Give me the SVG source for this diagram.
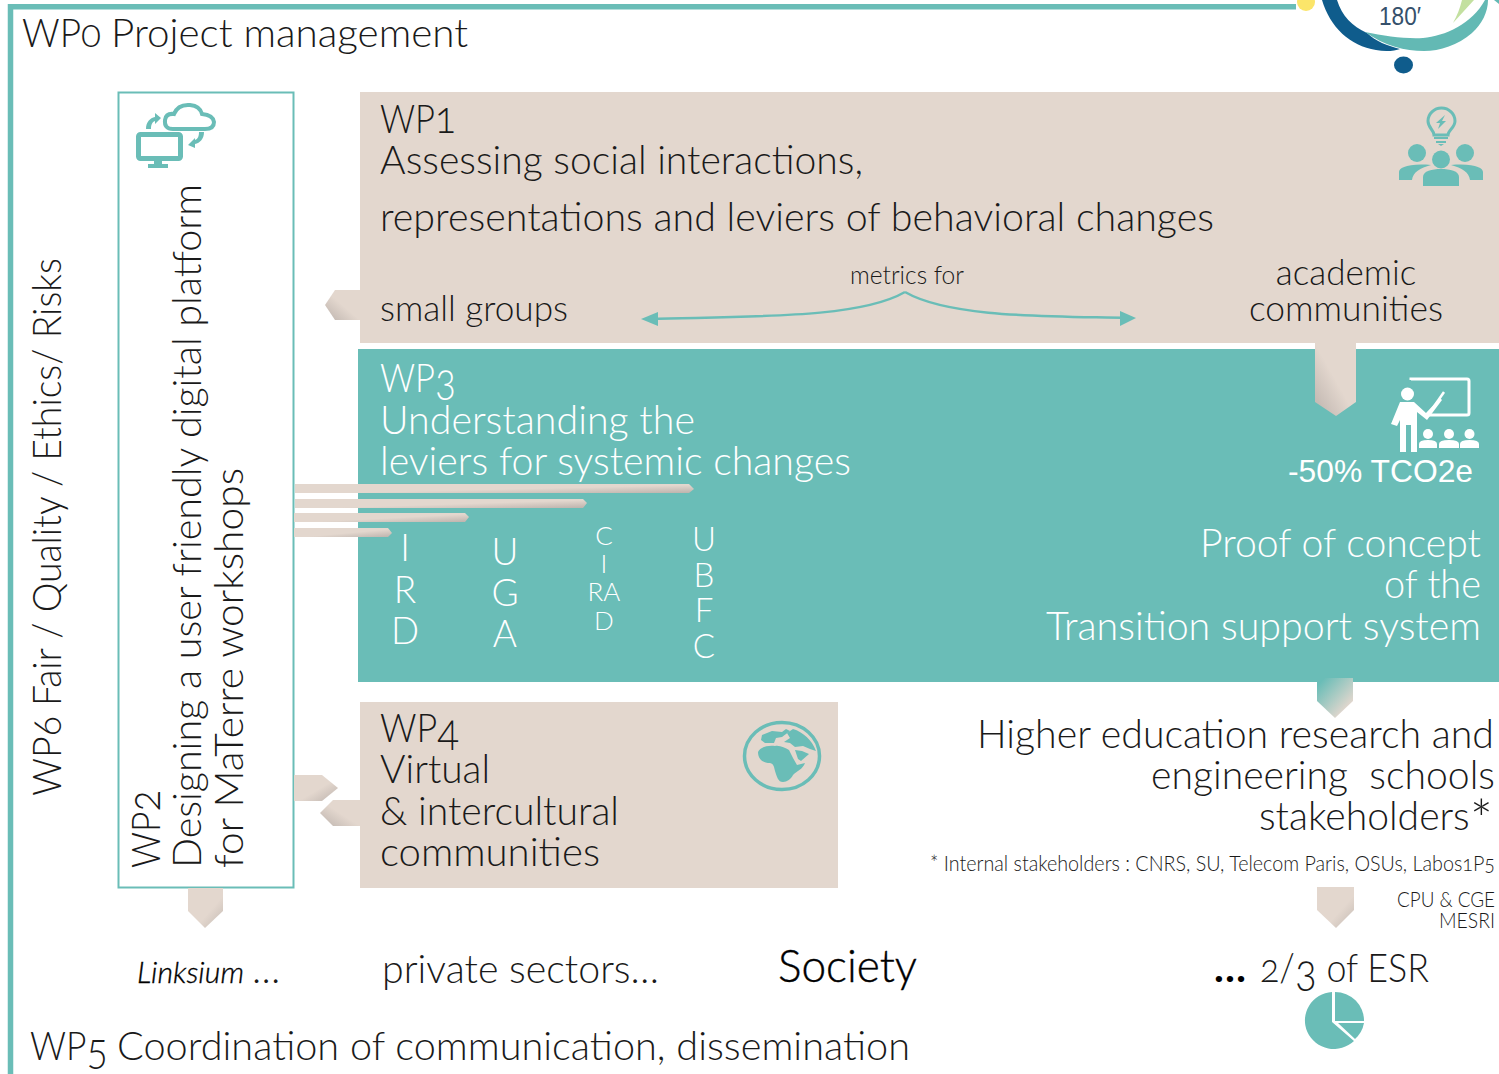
<svg xmlns="http://www.w3.org/2000/svg" width="1499" height="1074" viewBox="0 0 1499 1074">
<defs>
<linearGradient id="g1" x1="0" y1="0" x2="1" y2="1"><stop offset="0" stop-color="#e3d7ce"/><stop offset=".55" stop-color="#e3d7ce"/><stop offset="1" stop-color="#bdb3ad"/></linearGradient>
<linearGradient id="g2" x1="0" y1="1" x2="1" y2="0"><stop offset="0" stop-color="#bdb3ad"/><stop offset=".5" stop-color="#e3d7ce"/><stop offset="1" stop-color="#e3d7ce"/></linearGradient>
<linearGradient id="g3" x1="0" y1="0" x2="1" y2="1"><stop offset="0" stop-color="#e3d7ce"/><stop offset=".6" stop-color="#e3d7ce"/><stop offset="1" stop-color="#c4bab3"/></linearGradient>
<linearGradient id="g4" x1="0" y1="0" x2="1" y2="1"><stop offset=".1" stop-color="#6abdb7"/><stop offset=".8" stop-color="#e3d7ce"/></linearGradient>
</defs>
<style>
text{font-family:"Lato","Open Sans","Liberation Sans",sans-serif;font-weight:300;fill:#1a1a1a;font-size:40px;font-variant-numeric:oldstyle-nums}
.w{fill:#fff}
.m{text-anchor:middle}
.d{font-size:45px}
</style>
<rect width="1499" height="1074" fill="#fff"/>
<g id="frame"><path d="M1296 6.800H10.500V1074" fill="none" stroke="#6abdb7" stroke-width="5.500"/></g>
<g id="wp0"><text x="22" y="47" textLength="79" lengthAdjust="spacingAndGlyphs">WP0</text><text x="111" y="47" textLength="357" lengthAdjust="spacingAndGlyphs">Project management</text></g>
<g id="logo">
<circle cx="1306" cy="2" r="9" fill="#fbe56a"/>
<path d="M1322 0H1337C1342 16 1352 26 1367 33C1375 41 1388 46 1400 49C1395 51 1385 52 1376 50C1350 46 1330 27 1322 0Z" fill="#0f5c8c"/>
<path d="M1365 32C1385 36 1405 39 1423 38C1445 36 1472 24 1485 0H1488C1488 12 1482 24 1472 33C1458 45 1440 51 1424 51C1405 51 1385 46 1365 32Z" fill="#63b9b4"/>
<path d="M1453 23L1474 0H1462C1460 8 1457 16 1453 23Z" fill="#c3e0a0"/>
<path d="M1494 0H1499V4Z" fill="#63b9b4"/>
<ellipse cx="1403.500" cy="65" rx="9.500" ry="8.500" fill="#0f5c8c"/>
<text x="1379" y="25" textLength="42" lengthAdjust="spacingAndGlyphs" style="font-family:'Liberation Sans',sans-serif;font-weight:400;font-size:25px;fill:#35506b;font-variant-numeric:normal">180′</text>
</g>
<g id="wp1">
<rect x="360" y="92" width="1139" height="251" fill="#e3d7ce"/>
<text x="380" y="133" textLength="76" lengthAdjust="spacingAndGlyphs">WP<tspan class="d">1</tspan></text>
<text x="380" y="174" textLength="483" lengthAdjust="spacingAndGlyphs">Assessing social interactions,</text>
<text x="380" y="231" textLength="834" lengthAdjust="spacingAndGlyphs">representations and leviers of behavioral changes</text>
<text x="380" y="321" style="font-size:35px" textLength="188" lengthAdjust="spacingAndGlyphs">small groups</text>
<text x="850" y="284" style="font-size:25px" textLength="114" lengthAdjust="spacingAndGlyphs">metrics for</text>
<text x="1346" y="285" class="m" style="font-size:35px">academic</text>
<text x="1346" y="321" class="m" style="font-size:35px" textLength="194" lengthAdjust="spacingAndGlyphs">communities</text>
<g id="people" fill="#6abdb7">
<circle cx="1417" cy="153" r="9"/><circle cx="1465" cy="153" r="9"/><circle cx="1441" cy="159.500" r="9"/>
<path d="M1399 180V172C1399 168 1408 163 1431 165C1420 168 1413 172 1412 180Z"/>
<path d="M1483 180V172C1483 168 1474 163 1451 165C1462 168 1469 172 1470 180Z"/>
<path d="M1423 186V177C1423 171 1432 169 1441 169C1450 169 1459 171 1459 177V186Z"/>
<path d="M1434 137h14v2h-14zM1436 141h10v2h-10zM1438 144h6l-3 2z"/>
<path d="M1434 135C1434 130 1428 128 1428 121A13.500 13 0 1 1 1455 121C1455 128 1448 130 1448 135Z" fill="none" stroke="#6abdb7" stroke-width="3"/>
<path d="M1445 115L1436 123H1440L1438 129L1446 121H1442Z"/>
</g>
</g>
<g id="wp3">
<rect x="358" y="349" width="1141" height="333" fill="#6abdb7"/>
<text x="380" y="392" class="w" textLength="76" lengthAdjust="spacingAndGlyphs">WP<tspan class="d w" dy="3">3</tspan></text>
<text x="380" y="434" class="w" textLength="315" lengthAdjust="spacingAndGlyphs">Understanding the</text>
<text x="380" y="475" class="w" textLength="471" lengthAdjust="spacingAndGlyphs">leviers for systemic changes</text>
<text x="405" y="561" class="w m" style="font-size:37px">I</text><text x="405" y="603" class="w m" style="font-size:37px">R</text><text x="405" y="644" class="w m" style="font-size:37px">D</text>
<text x="505" y="565" class="w m" style="font-size:37px">U</text><text x="505" y="606" class="w m" style="font-size:37px">G</text><text x="505" y="647" class="w m" style="font-size:37px">A</text>
<text x="604" y="545" class="w m" style="font-size:26px">C</text><text x="604" y="573" class="w m" style="font-size:26px">I</text><text x="604" y="601" class="w m" style="font-size:26px">RA</text><text x="604" y="630" class="w m" style="font-size:26px">D</text>
<text x="704" y="551" class="w m" style="font-size:33px">U</text><text x="704" y="587" class="w m" style="font-size:33px">B</text><text x="704" y="622" class="w m" style="font-size:33px">F</text><text x="704" y="658" class="w m" style="font-size:33px">C</text>
<g id="teacher" fill="#fff">
<circle cx="1407.500" cy="394" r="6.500"/>
<path d="M1400 402H1414L1426 413L1440 398L1442 400L1427 420L1417 412V452H1411V425H1406V452H1400V420L1397 426L1391 424Z"/>
<path d="M1411 380V379H1467Q1469 379 1469 381V413Q1469 415 1467 415H1429" fill="none" stroke="#fff" stroke-width="3"/>
<path d="M1426 418L1444 392" stroke="#fff" stroke-width="2.500"/>
<circle cx="1428" cy="434" r="5"/><circle cx="1449" cy="434" r="5"/><circle cx="1469.500" cy="434" r="5"/>
<path d="M1419 448V444Q1419 440 1428 440Q1437 440 1437 444V448ZM1439 448V444Q1439 440 1449 440Q1459 440 1459 444V448ZM1460 448V444Q1460 440 1469.500 440Q1479 440 1479 444V448Z"/>
</g>
<text x="1288" y="482" class="w" style="font-family:'Liberation Sans',Arial,sans-serif;font-weight:400;font-size:32px;font-variant-numeric:normal" textLength="185" lengthAdjust="spacingAndGlyphs">-50% TCO2e</text>
<text x="1200" y="557" class="w" textLength="281" lengthAdjust="spacingAndGlyphs">Proof of concept</text>
<text x="1384" y="598" class="w" textLength="97" lengthAdjust="spacingAndGlyphs">of the</text>
<text x="1046" y="640" class="w" textLength="435" lengthAdjust="spacingAndGlyphs">Transition support system</text>
</g>
<g id="wp2">
<rect x="118.500" y="92.500" width="175" height="795" fill="#fff" stroke="#6abdb7" stroke-width="2"/>
<g transform="rotate(-90)">
<text x="-868" y="160" textLength="78" lengthAdjust="spacingAndGlyphs">WP<tspan class="d">2</tspan></text>
<text x="-868" y="201" textLength="684" lengthAdjust="spacingAndGlyphs">Designing a user friendly digital platform</text>
<text x="-868" y="243" textLength="400" lengthAdjust="spacingAndGlyphs">for MaTerre workshops</text>
</g>
<g id="cloud">
<path d="M173 129Q164 129 165 120Q166 113 174 114Q178 104 190 105Q200 106 202 114Q213 115 214 122Q214 129 205 129Z" fill="none" stroke="#6abdb7" stroke-width="4"/>
<rect x="138.500" y="134.500" width="42" height="24" rx="2" fill="none" stroke="#6abdb7" stroke-width="5"/>
<path d="M154 161h8v3h-8zM148 164h20v4h-20z" fill="#6abdb7"/>
<path d="M146 129C146 122 150 118 155 117V113L161 118L155 124V121C152 122 151 125 151 129Z" fill="#6abdb7"/>
<path d="M204 132C204 139 200 143 195 144V148L188 145L195 138V140C198 139 199 136 199 132Z" fill="#6abdb7"/>
</g>
</g>
<g id="wp4">
<rect x="360" y="702" width="478" height="186" fill="#e3d7ce"/>
<text x="380" y="742" textLength="79" lengthAdjust="spacingAndGlyphs">WP<tspan class="d" dy="4">4</tspan></text>
<text x="380" y="783" textLength="110" lengthAdjust="spacingAndGlyphs">Virtual</text>
<text x="380" y="825" textLength="239" lengthAdjust="spacingAndGlyphs">&amp; intercultural</text>
<text x="380" y="866" textLength="220" lengthAdjust="spacingAndGlyphs">communities</text>
<g id="globe" fill="#6abdb7">
<ellipse cx="782" cy="756" rx="37.500" ry="33.500" fill="none" stroke="#6abdb7" stroke-width="3.500"/>
<path d="M758 752C760 747 768 745 775 746C780 745 785 748 789 750L793 758L797 765L805 763C803 769 797 771 793 775C791 779 787 782 783 782C778 782 777 777 775 771C774 767 774 764 770 763C764 763 758 760 758 752Z"/>
<path d="M793 729C803 732 812 740 816 751L810 749L803 746L795 747L790 743L784 742L790 738L787 733Z"/>
<path d="M795 750L802 751L809 754L801 761L798 759Z"/>
<path d="M762 735L772 731L782 732L786 729L790 731L782 737L776 738L774 743L765 743L761 740Z"/>
</g>
</g>
<g id="connectors">
<path d="M360 290H335L325 305L335 320H360Z" fill="url(#g2)"/>
<path d="M1315 343H1356V402L1336 416L1315 402Z" fill="url(#g2)"/>
<path d="M295 484H689L694 489L689 493H295Z" fill="url(#g1)"/>
<path d="M295 499H583L587 503L583 508H295Z" fill="url(#g1)"/>
<path d="M294 513H465L469 517L465 522H294Z" fill="url(#g1)"/>
<path d="M294 528H388L392 533L388 537H294Z" fill="url(#g1)"/>
<path d="M1317 678H1353V701L1335 718L1317 701Z" fill="url(#g4)"/>
<path d="M294 775H322L338 788L322 801H294Z" fill="url(#g1)"/>
<path d="M360 800H333L320 813L333 826H360Z" fill="url(#g2)"/>
<path d="M188 888H223V911L205 928L188 911Z" fill="url(#g3)"/>
<path d="M1317 887H1354V910L1336 928L1317 910Z" fill="url(#g3)"/>
<path d="M905 292C860 318 760 316 650 319M905 292C950 318 1050 316 1128 318" fill="none" stroke="#6abdb7" stroke-width="2.500"/>
<path d="M641 319L658 312V326Z" fill="#6abdb7"/>
<path d="M1136 318L1120 311V326Z" fill="#6abdb7"/>
</g>
<g id="wp6"><text transform="translate(61 796) rotate(-90)" textLength="538" lengthAdjust="spacingAndGlyphs">WP6 Fair / Quality / Ethics/ Risks</text></g>
<g id="stakeholders">
<text x="977" y="748" textLength="517" lengthAdjust="spacingAndGlyphs">Higher education research and</text>
<text x="1151" y="789" textLength="344" lengthAdjust="spacingAndGlyphs" xml:space="preserve">engineering  schools</text>
<text x="1259" y="830" textLength="234" lengthAdjust="spacingAndGlyphs">stakeholders<tspan style="font-size:56px" dy="10">*</tspan></text>
<text x="930" y="871" style="font-size:21px" textLength="565" lengthAdjust="spacingAndGlyphs">* Internal stakeholders : CNRS, SU, Telecom Paris, OSUs, Labos1P5</text>
<text x="1397" y="907" style="font-size:21px" textLength="98" lengthAdjust="spacingAndGlyphs">CPU &amp; CGE</text>
<text x="1439" y="928" style="font-size:21px" textLength="56" lengthAdjust="spacingAndGlyphs">MESRI</text>
</g>
<g id="bottom">
<text x="137" y="983" style="font-size:30px;font-style:italic;fill:#000" stroke="#000" stroke-width=".35" textLength="107" lengthAdjust="spacingAndGlyphs">Linksium</text>
<text x="252" y="983" style="font-size:39px">…</text>
<text x="382" y="983" textLength="277" lengthAdjust="spacingAndGlyphs">private sectors…</text>
<text x="778" y="982" style="font-size:46px;fill:#000" stroke="#000" stroke-width=".4" textLength="139" lengthAdjust="spacingAndGlyphs">Society</text>
<text x="1214" y="982" style="font-weight:700;fill:#000" textLength="32" lengthAdjust="spacingAndGlyphs">…</text>
<text x="1260" y="982" textLength="169" lengthAdjust="spacingAndGlyphs">2/<tspan class="d" dy="4">3</tspan><tspan dy="-4"> of ESR</tspan></text>
<g id="pie" fill="#6abdb7">
<path d="M1335 992A29 28.500 0 0 1 1364 1021H1335Z"/>
<path d="M1338 1023H1364A29 28.500 0 0 1 1355 1039Z"/>
<path d="M1332 992V1022L1354 1041A29 28.500 0 1 1 1332 992Z"/>
</g>
<text x="30" y="1060" textLength="78" lengthAdjust="spacingAndGlyphs">WP<tspan class="d" dy="4">5</tspan></text>
<text x="117" y="1060" textLength="793" lengthAdjust="spacingAndGlyphs">Coordination of communication, dissemination</text>
</g>
</svg>
